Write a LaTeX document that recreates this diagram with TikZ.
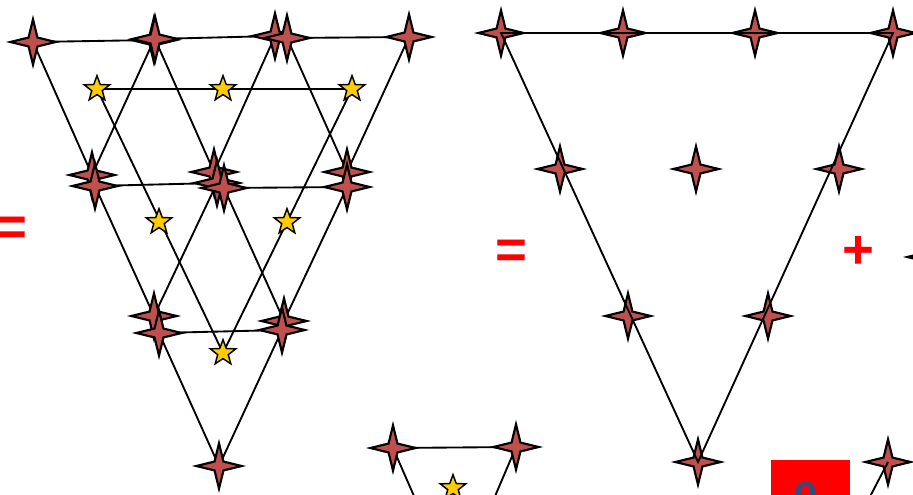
\documentclass[tikz,border=0pt]{standalone}
\usepackage{fontspec}
\setmainfont{Liberation Sans}
\usepackage{tikz}
\usetikzlibrary{shapes.geometric, backgrounds}
\definecolor{starred}{RGB}{192, 80, 77}
\definecolor{staryellow}{RGB}{255, 204, 0}
\definecolor{signred}{RGB}{255, 0, 0}
\definecolor{letterblue}{RGB}{44, 77, 130}

\tikzset{
    redstar/.style={star, star points=4, star point ratio=3.6, minimum size=34pt, inner sep=0pt,
                    fill=starred, draw=black, line width=1.6pt},
    yellowstar/.style={star, star points=5, star point ratio=2.4, minimum size=20pt, inner sep=0pt,
                       fill=staryellow, draw=black, line width=1.1pt},
    meshline/.style={black, line width=1.4pt},
    signtext/.style={signred, anchor=base, font=\fontsize{41}{48}\selectfont\bfseries}
}

\begin{document}
\begin{tikzpicture}[x=0.75pt, y=-0.75pt]
    % Frame
    \useasboundingbox (0,0) rectangle (913,495);
    \clip (0,0) rectangle (913,495);

    % Left net: small triangles
    \node[redstar] (a1) at (33,42) {};
    \node[redstar] (a2) at (154,40) {};
    \node[redstar] (a2b) at (155,39) {};
    \node[redstar] (a3) at (275,36) {};
    \node[redstar] (a4) at (287,38) {};
    \node[redstar] (a5) at (409,37) {};
    \node[redstar] (b1) at (92,175) {};
    \node[redstar] (b2) at (214,172) {};
    \node[redstar] (b3) at (347,172) {};
    \node[redstar] (b4) at (95,186) {};
    \node[redstar] (b5) at (217,183) {};
    \node[redstar] (b6) at (224,188) {};
    \node[redstar] (b7) at (347,187) {};
    \node[redstar] (c1) at (154,316) {};
    \node[redstar] (c2) at (284,321) {};
    \node[redstar] (c3) at (159,333) {};
    \node[redstar] (c4) at (282,330) {};
    \node[redstar] (d1) at (219,466) {};

    % Left net: centre points
    \node[yellowstar] (y1) at (97,89) {};
    \node[yellowstar] (y2) at (223,89) {};
    \node[yellowstar] (y3) at (352,89) {};
    \node[yellowstar] (y4) at (159,222) {};
    \node[yellowstar] (y5) at (287,222) {};
    \node[yellowstar] (y6) at (223,353) {};

    % Bottom middle triangle
    \node[redstar] (m1) at (393,448) {};
    \node[redstar] (m2) at (516,447) {};
    \node[yellowstar] (m3) at (453,488) {};
    \coordinate (m4) at (455,590);

    \begin{scope}[on background layer]
        \fill[white] (0,0) rectangle (913,495);
        \draw[meshline] (a1.center) -- (a2.center) -- (b1.center) -- cycle;
        \draw[meshline] (a2b.center) -- (a3.center) -- (b2.center) -- cycle;
        \draw[meshline] (a4.center) -- (a5.center) -- (b3.center) -- cycle;
        \draw[meshline] (b4.center) -- (b5.center) -- (c1.center) -- cycle;
        \draw[meshline] (b6.center) -- (b7.center) -- (c2.center) -- cycle;
        \draw[meshline] (c3.center) -- (c4.center) -- (d1.center) -- cycle;
        \draw[meshline] (y1.center) -- (y3.center) -- (y6.center) -- cycle;
        \draw[meshline] (m4) -- (m1.center) -- (m2.center) -- (m4);
    \end{scope}

    % Signs
    \node[signtext] (eqa) at (11,246) {=};
    \node[signtext] (eqb) at (511,268) {=};
    \node[signtext] (plus) at (858,268) {+};

    % Right net: cubic triangle
    \node[redstar] (r1) at (501,33) {};
    \node[redstar] (r2) at (623,33) {};
    \node[redstar] (r3) at (755,33) {};
    \node[redstar] (r4) at (893,33) {};
    \node[redstar] (r5) at (560,169) {};
    \node[redstar] (r6) at (696,169) {};
    \node[redstar] (r7) at (839,169) {};
    \node[redstar] (r8) at (628,316) {};
    \node[redstar] (r9) at (768,316) {};
    \node[redstar] (r10) at (698,462) {};
    \draw[meshline] (r1.center) -- (r4.center) -- (r10.center) -- cycle;

    % Bottom right
    \fill[signred] (771,460) rectangle (850,500);
    \node[text=letterblue, anchor=base, font=\fontsize{28}{34}\selectfont\bfseries] (lbl) at (806,502) {o};
    \node[redstar] (e1) at (888,462) {};
    \coordinate (e2) at (836,562);
    \draw[meshline] (e1.center) -- (e2);
    \node[redstar] (e3) at (930,257) {};

\end{tikzpicture}
\end{document}
